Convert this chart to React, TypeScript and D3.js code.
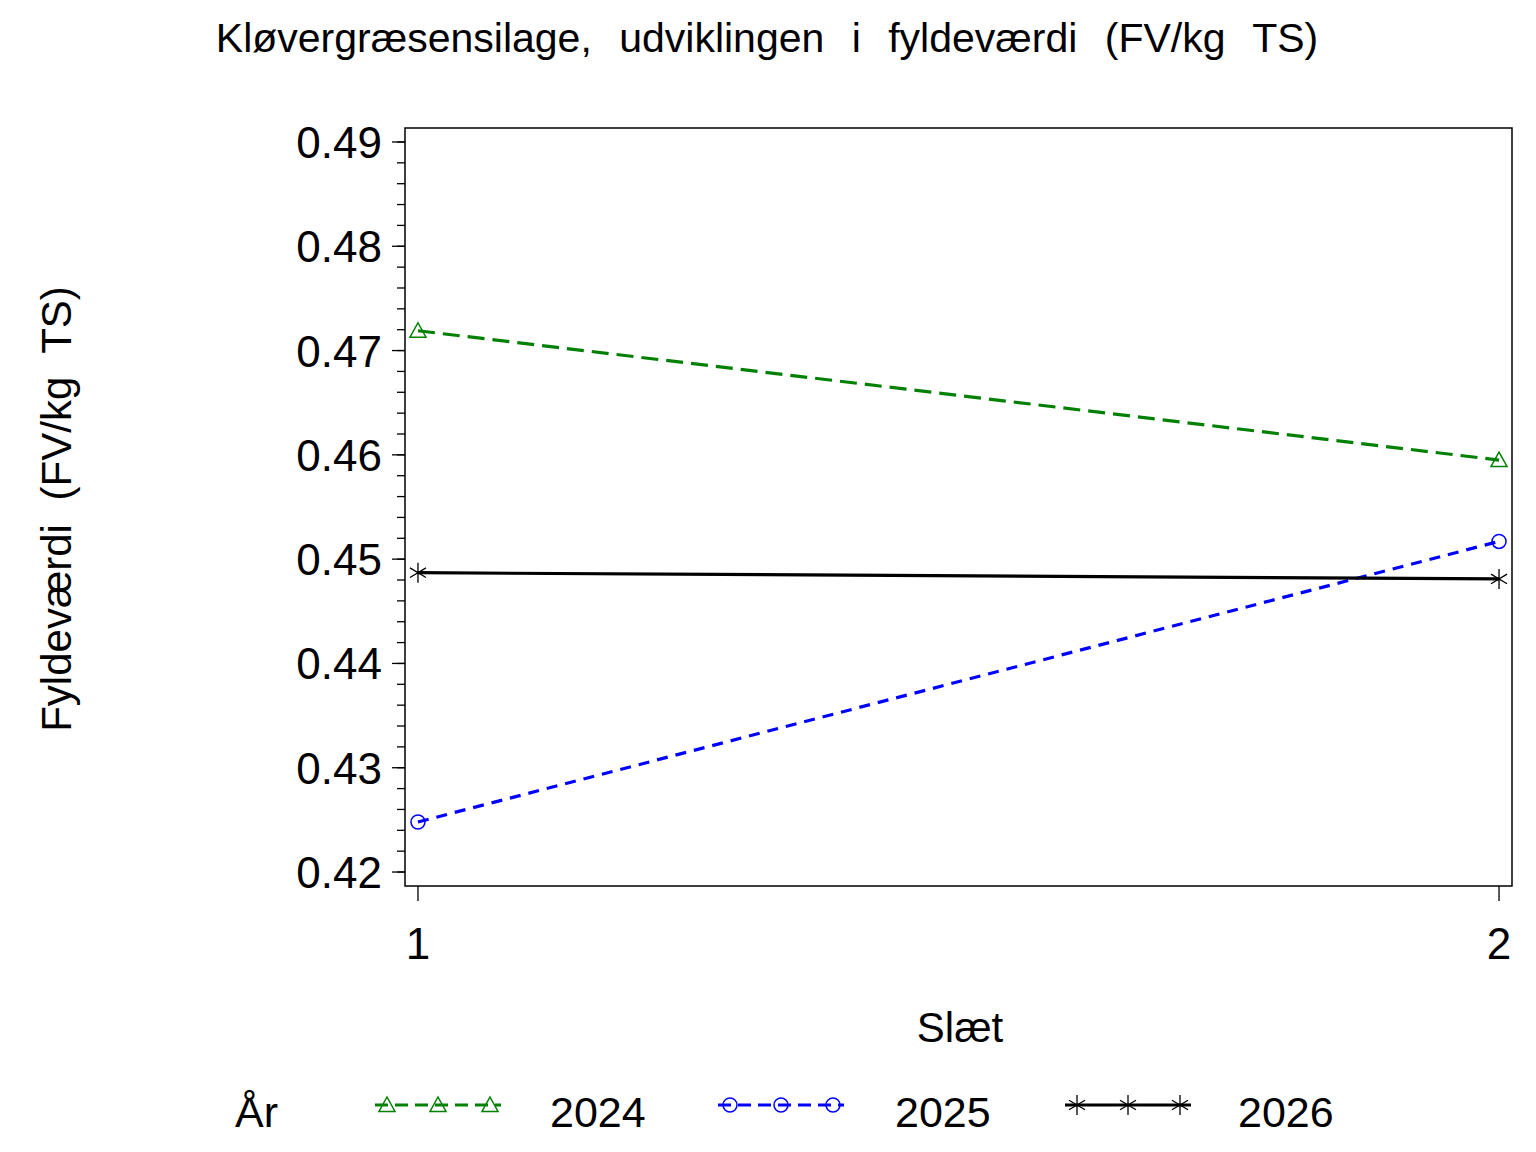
import React from 'react';
import * as d3 from 'd3';

const CUTS = [1, 2];
const YEARS = ['2024', '2025', '2026'];
const VALUES_2024 = [0.4719, 0.4595];
const VALUES_2025 = [0.4248, 0.4517];
const VALUES_2026 = [0.4487, 0.4481];
const Y_TICKS = [0.42, 0.43, 0.44, 0.45, 0.46, 0.47, 0.48, 0.49];

const SERIES = [
  { year: YEARS[0], values: VALUES_2024, color: '#008000', dash: '17 8', marker: 'triangle' },
  { year: YEARS[1], values: VALUES_2025, color: '#0000ff', dash: '11 8', marker: 'circle' },
  { year: YEARS[2], values: VALUES_2026, color: '#000000', dash: null, marker: 'star' },
];

const FONT = '"Liberation Sans", Arial, sans-serif';

const Marker: React.FC<{ type: string; x: number; y: number; color: string }> = ({ type, x, y, color }) => {
  if (type === 'triangle') {
    const s = 8;
    return (
      <path
        d={`M${x},${y - s} L${x + s},${y + s * 0.8} L${x - s},${y + s * 0.8} Z`}
        fill="none"
        stroke={color}
        strokeWidth={1.5}
      />
    );
  }
  if (type === 'circle') {
    return <circle cx={x} cy={y} r={7} fill="none" stroke={color} strokeWidth={1.5} />;
  }
  const s = 8;
  return (
    <path
      d={`M${x},${y - s - 2} L${x},${y + s + 2} M${x - s},${y - s * 0.6} L${x + s},${y + s * 0.6} M${x - s},${y + s * 0.6} L${x + s},${y - s * 0.6}`}
      stroke={color}
      strokeWidth={1.3}
    />
  );
};

const App: React.FC = () => {
  const left = 405;
  const right = 1512;
  const top = 128;
  const bottom = 886;

  const x = d3.scaleLinear().domain([0.988, 2.012]).range([left, right]);
  const y = d3.scaleLinear().domain([0.41866, 0.49134]).range([bottom, top]);
  const minorTicks = d3.range(0.42, 0.4901, 0.002);

  const line = d3
    .line<number>()
    .x((_, i) => x(CUTS[i]))
    .y(d => y(d));

  const legendItems = [
    { lineX: 375, textX: 550 },
    { lineX: 718, textX: 895 },
    { lineX: 1065, textX: 1238 },
  ];

  return (
    <svg width={1536} height={1152} style={{ position: 'absolute', left: 0, top: 0, background: '#fff' }} fontFamily={FONT}>
      <rect width={1536} height={1152} fill="#fff" />
      <text x={767} y={52} textAnchor="middle" fontSize={41} wordSpacing={16}>
        Kløvergræsensilage, udviklingen i fyldeværdi (FV/kg TS)
      </text>

      {/* frame */}
      <rect x={left} y={top} width={right - left} height={bottom - top} fill="none" stroke="#000" strokeWidth={1.5} />

      {/* y axis ticks */}
      {minorTicks.map((t, i) => (
        <line key={`m${i}`} x1={397} x2={left} y1={y(t)} y2={y(t)} stroke="#000" strokeWidth={1.3} />
      ))}
      {Y_TICKS.map(t => (
        <g key={t}>
          <line x1={392} x2={left} y1={y(t)} y2={y(t)} stroke="#000" strokeWidth={1.3} />
          <text x={382} y={y(t) + 16} textAnchor="end" fontSize={44}>
            {d3.format('.2f')(t)}
          </text>
        </g>
      ))}

      {/* x axis ticks */}
      {CUTS.map(c => (
        <g key={c}>
          <line x1={x(c)} x2={x(c)} y1={bottom} y2={bottom + 15} stroke="#000" strokeWidth={1.3} />
          <text x={x(c)} y={959} textAnchor="middle" fontSize={44}>
            {c}
          </text>
        </g>
      ))}

      <text x={960} y={1042} textAnchor="middle" fontSize={42}>
        Slæt
      </text>
      <text transform="translate(71,509) rotate(-90)" textAnchor="middle" fontSize={42} wordSpacing={12}>
        Fyldeværdi (FV/kg TS)
      </text>

      {/* series */}
      {SERIES.map(s => (
        <g key={s.year}>
          <path
            d={line(s.values) || ''}
            fill="none"
            stroke={s.color}
            strokeWidth={3.2}
            strokeDasharray={s.dash || undefined}
          />
          {s.values.map((v, i) => (
            <Marker key={i} type={s.marker} x={x(CUTS[i])} y={y(v)} color={s.color} />
          ))}
        </g>
      ))}

      {/* legend */}
      <text x={235} y={1127} fontSize={43}>
        År
      </text>
      {SERIES.map((s, k) => {
        const lx = legendItems[k].lineX;
        return (
          <g key={`lg${s.year}`}>
            <line
              x1={lx}
              x2={lx + 126}
              y1={1105}
              y2={1105}
              stroke={s.color}
              strokeWidth={3}
              strokeDasharray={s.dash ? '13 7' : undefined}
            />
            {[12, 63, 115].map(o => (
              <Marker key={o} type={s.marker} x={lx + o} y={1105} color={s.color} />
            ))}
            <text x={legendItems[k].textX} y={1127} fontSize={43}>
              {s.year}
            </text>
          </g>
        );
      })}
    </svg>
  );
};

export default App;
